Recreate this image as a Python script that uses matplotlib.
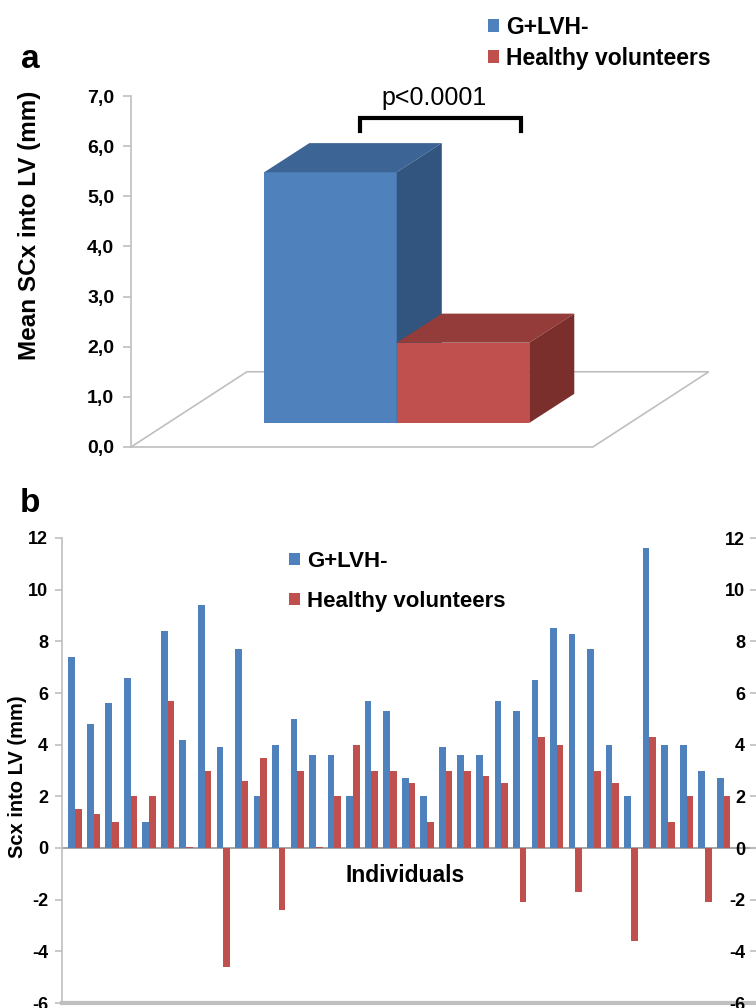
import numpy as np
import matplotlib
matplotlib.use("Agg")
import matplotlib.pyplot as plt
from matplotlib.patches import Polygon, Patch

# ---------------- data ----------------
groups_a = ["G+LVH-", "Healthy volunteers"]
mean_scx = [5.0, 1.6]
yticks_a = [0, 1, 2, 3, 4, 5, 6, 7]
p_text = "p<0.0001"

blue_b = [7.4, 4.8, 5.6, 6.6, 1.0, 8.4, 4.2, 9.4, 3.9, 7.7, 2.0, 4.0,
          5.0, 3.6, 3.6, 2.0, 5.7, 5.3, 2.7, 2.0, 3.9, 3.6, 3.6, 5.7,
          5.3, 6.5, 8.5, 8.3, 7.7, 4.0, 2.0, 11.6, 4.0, 4.0, 3.0, 2.7]
red_b = [1.5, 1.3, 1.0, 2.0, 2.0, 5.7, 0.05, 3.0, -4.6, 2.6, 3.5, -2.4,
         3.0, 0.05, 2.0, 4.0, 3.0, 3.0, 2.5, 1.0, 3.0, 3.0, 2.8, 2.5,
         -2.1, 4.3, 4.0, -1.7, 3.0, 2.5, -3.6, 4.3, 1.0, 2.0, -2.1, 2.0]
yticks_b = [-6, -4, -2, 0, 2, 4, 6, 8, 10, 12]

# ---------------- style ----------------
plt.rcParams['font.family'] = ['Liberation Sans', 'DejaVu Sans']
BLUE, RED = '#4F81BD', '#C0504D'
BLUE_TOP, BLUE_SIDE = '#3C6494', '#32557F'
RED_TOP, RED_SIDE = '#943C3A', '#7B2F2D'
GRAY = '#BFBFBF'

W, H = 756, 1008
fig = plt.figure(figsize=(W / 100, H / 100), dpi=100)


def px_rect(l, t, r, b):
    return [l / W, 1 - b / H, (r - l) / W, (b - t) / H]


# ---------------- panel a (pseudo 3-D columns) ----------------
ax = fig.add_axes(px_rect(131, 96, 720, 447))
ax.set_xlim(-1.506, 2.94)
ax.set_ylim(0, 7)
for s in ['top', 'right', 'bottom']:
    ax.spines[s].set_visible(False)
ax.spines['left'].set_color(GRAY)
ax.spines['left'].set_linewidth(1.2)
ax.set_xticks([])
ax.set_yticks(yticks_a, labels=[f"{t:.1f}".replace('.', ',') for t in yticks_a],
              fontweight='bold', fontsize=14)
ax.tick_params(axis='y', direction='out', length=6, color=GRAY, width=1.2, pad=6)

# floor
floor_x0, floor_x1 = -1.506, 1.98
floor_dx, floor_dy = 0.875, 1.5
floor = Polygon([[floor_x0, 0], [floor_x1, 0], [floor_x1 + floor_dx, floor_dy],
                 [floor_x0 + floor_dx, floor_dy]], closed=True, fill=False,
                edgecolor=GRAY, lw=1.2, clip_on=False, zorder=1)
ax.add_patch(floor)

base = 0.48            # front face offset inside the floor
ddx, ddy = 0.34, 0.58  # column depth
faces = [(BLUE, BLUE_TOP, BLUE_SIDE), (RED, RED_TOP, RED_SIDE)]
for i, (v, (cf, ct, cs)) in enumerate(zip(mean_scx, faces)):
    x0, x1 = i - 0.5, i + 0.5
    top = base + v
    z = 3 + 3 * i
    ax.add_patch(Polygon([[x0, base], [x1, base], [x1, top], [x0, top]],
                         closed=True, facecolor=cf, edgecolor='none', zorder=z, clip_on=False))
    ax.add_patch(Polygon([[x0, top], [x1, top], [x1 + ddx, top + ddy], [x0 + ddx, top + ddy]],
                         closed=True, facecolor=ct, edgecolor='none', zorder=z, clip_on=False))
    ax.add_patch(Polygon([[x1, base], [x1, top], [x1 + ddx, top + ddy], [x1 + ddx, base + ddy]],
                         closed=True, facecolor=cs, edgecolor='none', zorder=z, clip_on=False))

# significance bracket
bx0, bx1, by, bleg = 0.223, 1.438, 6.56, 6.30
ax.plot([bx0, bx0, bx1, bx1], [bleg, by, by, bleg], color='black', lw=3,
        solid_joinstyle='miter', clip_on=False, zorder=10)
ax.text(0.78, 6.96, p_text, ha='center', va='center', fontsize=18, clip_on=False)

fig.text(30 / W, 1 - 225 / H, "Mean SCx into LV (mm)", rotation=90, ha='center',
         va='center', fontsize=17.5, fontweight='bold')
fig.text(30 / W, 1 - 60 / H, "a", ha='center', va='center', fontsize=24, fontweight='bold')

handles = [Patch(facecolor=BLUE), Patch(facecolor=RED)]
fig.legend(handles, groups_a, loc='upper left', bbox_to_anchor=(488 / W, 1 - 16 / H),
           frameon=False, prop={'weight': 'bold', 'size': 16.5}, handlelength=0.5,
           handleheight=0.5, handletextpad=0.3, labelspacing=0.35, borderpad=0,
           borderaxespad=0)

# ---------------- panel b ----------------
axb = fig.add_axes(px_rect(62, 538, 756, 1003))
x = np.arange(len(blue_b))
wbar = 0.36
axb.bar(x - wbar / 2, blue_b, width=wbar, color=BLUE, zorder=3, label=groups_a[0])
axb.bar(x + wbar / 2, red_b, width=wbar, color=RED, zorder=3, label=groups_a[1])
axb.axhline(0, color='#A6A6A6', lw=1.5, zorder=2)
axb.set_xlim(-0.70, 36.75)
axb.set_ylim(-6, 12)
axb.set_xticks([])
for s in ['top', 'right']:
    axb.spines[s].set_visible(False)
axb.spines['left'].set_color(GRAY)
axb.spines['left'].set_linewidth(1.2)
axb.spines['bottom'].set_color(GRAY)
axb.spines['bottom'].set_linewidth(3)
axb.set_yticks(yticks_b, labels=[str(t) for t in yticks_b], fontweight='bold', fontsize=13)
axb.tick_params(axis='y', direction='out', length=5, color=GRAY, width=1.2, pad=5)

ax2 = axb.twinx()
ax2.set_ylim(-6, 12)
for s in ax2.spines.values():
    s.set_visible(False)
ax2.set_yticks(yticks_b, labels=[str(t) for t in yticks_b], fontweight='bold', fontsize=13)
ax2.tick_params(axis='y', direction='in', length=4, color=GRAY, width=1.2, pad=-8)
for t in ax2.yaxis.get_major_ticks():
    t.label2.set_horizontalalignment('right')

axb.text(17.8, -1.05, "Individuals", ha='center', va='center', fontsize=16.5,
         fontweight='bold', zorder=5)
fig.text(18 / W, 1 - 777 / H, "Scx into LV (mm)", rotation=90, ha='center',
         va='center', fontsize=14.5, fontweight='bold')
fig.text(30 / W, 1 - 503 / H, "b", ha='center', va='center', fontsize=24, fontweight='bold')

axb.legend(loc='upper left', bbox_to_anchor=(289 / W, 1 - 551 / H),
           bbox_transform=fig.transFigure, frameon=False,
           prop={'weight': 'bold', 'size': 16}, handlelength=0.5, handleheight=0.5,
           handletextpad=0.3, labelspacing=0.85, borderpad=0, borderaxespad=0)

fig.savefig("out.png", dpi=100)
